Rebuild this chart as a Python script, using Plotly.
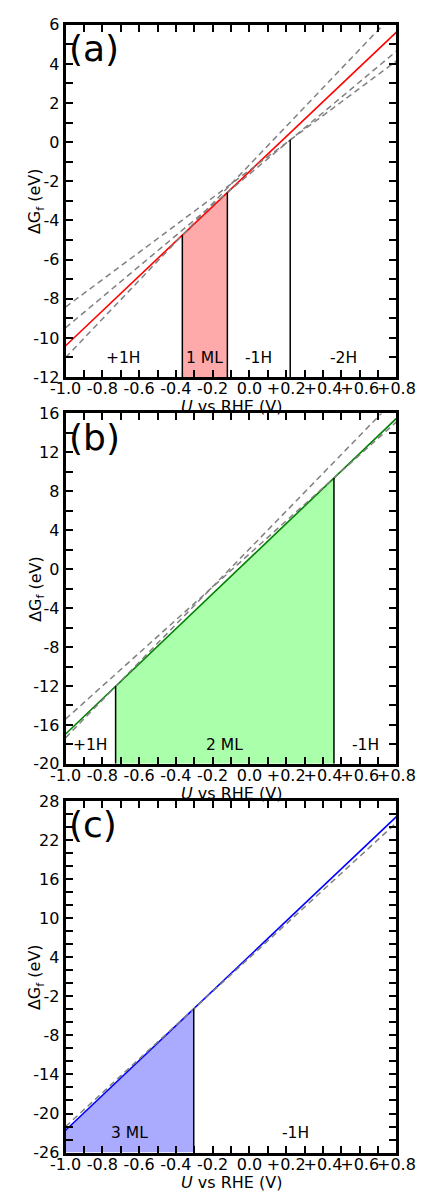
import numpy as np
import plotly.graph_objects as go

# ---------------- data ----------------
U_ENDS = [-1.0, 0.8]                      # U vs RHE at the two ends of every line

# panel (a)
A_1ML = [-10.40, 5.62]
A_P1H = [-11.00, 6.71]
A_M1H = [-9.48, 4.65]
A_M2H = [-8.42, 4.15]
A_BOUNDS = [-0.365, -0.12, 0.222]
A_TOPS = [-4.75, -2.57, 0.12]
A_REGIONS = ["+1H", "1 ML", "-1H", "-2H"]
A_FILLED = 1
A_YRANGE = [-12, 6]
A_YMAJOR = [-12, -10, -8, -6, -4, -2, 0, 2, 4, 6]
A_YLABELS = ["-12", "-10", "-8", "-6", "-4", "-2", "0", "2", "4", "6"]

# panel (b)
B_2ML = [-16.94, 15.49]
B_P1H = [-17.32, 17.60]
B_M1H = [-15.40, 15.14]
B_BOUNDS = [-0.728, 0.46]
B_TOPS = [-12.04, 9.37]
B_REGIONS = ["+1H", "2 ML", "-1H"]
B_FILLED = 1
B_YRANGE = [-20, 16]
B_YMAJOR = [-20, -16, -12, -8, -4, 0, 4, 8, 12, 16]
B_YLABELS = ["-20", "-16", "-12", "-8", "-4", "0", "4", "8", "12", "16"]

# panel (c)
C_3ML = [-22.57, 25.63]
C_M1H = [-22.00, 24.70]
C_BOUNDS = [-0.303]
C_TOPS = [-3.90]
C_REGIONS = ["3 ML", "-1H"]
C_FILLED = 0
C_YRANGE = [-26, 28]
C_YMAJOR = [-26, -20, -14, -8, -2, 4, 10, 16, 22, 28]
C_YLABELS = ["-26", "-20", "-14", "-8", "-2", "4", "10", "16", "22", "28"]

X_MAJOR = [-1.0, -0.8, -0.6, -0.4, -0.2, 0.0, 0.2, 0.4, 0.6, 0.8]
X_LABELS = ["-1.0", "-0.8", "-0.6", "-0.4", "-0.2", "0.0", "+0.2", "+0.4", "+0.6", "+0.8"]

PANEL_LETTERS = ["(a)", "(b)", "(c)"]

# ---------------- style ----------------
FONT = "DejaVu Sans"
W, H = 432, 1196
X0, X1 = 54, 414
PANEL_PIX = [(16, 374), (411, 767), (805, 1162)]
GRAY = "#808080"
DASH = "6px,4px"

panels = [
    dict(main=A_1ML, color="#ff0000", fill="#ffaaaa", dashed=[A_P1H, A_M1H, A_M2H],
         bounds=A_BOUNDS, tops=A_TOPS, regions=A_REGIONS, filled=A_FILLED,
         yrange=A_YRANGE, ymajor=A_YMAJOR, ylabels=A_YLABELS, yminor=1),
    dict(main=B_2ML, color="#008000", fill="#aaffaa", dashed=[B_P1H, B_M1H],
         bounds=B_BOUNDS, tops=B_TOPS, regions=B_REGIONS, filled=B_FILLED,
         yrange=B_YRANGE, ymajor=B_YMAJOR, ylabels=B_YLABELS, yminor=2),
    dict(main=C_3ML, color="#0000ff", fill="#aaaaff", dashed=[C_M1H],
         bounds=C_BOUNDS, tops=C_TOPS, regions=C_REGIONS, filled=C_FILLED,
         yrange=C_YRANGE, ymajor=C_YMAJOR, ylabels=C_YLABELS, yminor=2),
]

fig = go.Figure()
annotations = []
layout = {}

xminor = [float(v) for v in np.round(np.arange(-1.0, 0.8001, 0.1), 2)]
xticktext = []
for v in xminor:
    match = [lab for m, lab in zip(X_MAJOR, X_LABELS) if abs(m - v) < 1e-6]
    xticktext.append(match[0] if match else "")

for i, p in enumerate(panels):
    n = i + 1
    xa = "x" if n == 1 else f"x{n}"
    ya = "y" if n == 1 else f"y{n}"
    ymin = p["yrange"][0]

    full_bounds = [U_ENDS[0]] + p["bounds"] + [U_ENDS[1]]
    full_tops = [p["main"][0]] + p["tops"] + [p["main"][1]]
    k = p["filled"]
    # filled region under the stable phase line
    fig.add_trace(go.Scatter(
        x=[full_bounds[k], full_bounds[k], full_bounds[k + 1], full_bounds[k + 1]],
        y=[ymin, full_tops[k], full_tops[k + 1], ymin],
        fill="toself", fillcolor=p["fill"], line=dict(width=0), mode="lines",
        xaxis=xa, yaxis=ya, showlegend=False, hoverinfo="skip"))
    # main line
    fig.add_trace(go.Scatter(x=U_ENDS, y=p["main"], mode="lines",
                             line=dict(color=p["color"], width=1.6),
                             xaxis=xa, yaxis=ya, showlegend=False))
    # dashed competitors
    for d in p["dashed"]:
        fig.add_trace(go.Scatter(x=U_ENDS, y=d, mode="lines",
                                 line=dict(color=GRAY, width=1.5, dash=DASH),
                                 xaxis=xa, yaxis=ya, showlegend=False))
    # vertical boundaries
    for b, t in zip(p["bounds"], p["tops"]):
        fig.add_trace(go.Scatter(x=[b, b], y=[ymin, t], mode="lines",
                                 line=dict(color="black", width=1.5),
                                 xaxis=xa, yaxis=ya, showlegend=False))
    # region labels
    for j, name in enumerate(p["regions"]):
        annotations.append(dict(
            x=(full_bounds[j] + full_bounds[j + 1]) / 2, xref=xa,
            y=0.055, yref=f"{ya} domain", yanchor="middle",
            text=name, showarrow=False,
            font=dict(family=FONT, size=15.5, color="black")))
    # panel letter
    annotations.append(dict(x=0.004, xref=f"{xa} domain", y=0.997, yref=f"{ya} domain",
                            xanchor="left", yanchor="top", text=PANEL_LETTERS[i],
                            showarrow=False, font=dict(family=FONT, size=36, color="black")))
    # axis titles
    annotations.append(dict(x=0.5, xref=f"{xa} domain", y=0, yref=f"{ya} domain",
                            yanchor="top", yshift=-18, text="<i>U</i> vs RHE (V)",
                            showarrow=False, font=dict(family=FONT, size=16, color="black")))
    annotations.append(dict(x=22 / W, xref="paper", y=0.5, yref=f"{ya} domain",
                            xanchor="center", yanchor="middle", textangle=-90,
                            text="ΔG<sub>f</sub> (eV)", showarrow=False,
                            font=dict(family=FONT, size=16, color="black")))

    top, bot = PANEL_PIX[i]
    yvals = list(range(p["yrange"][0], p["yrange"][1] + 1, p["yminor"]))
    ytext = []
    for v in yvals:
        match = [lab for m, lab in zip(p["ymajor"], p["ylabels"]) if m == v]
        ytext.append(match[0] if match else "")

    axis_common = dict(showline=True, linewidth=3, linecolor="black", mirror="ticks",
                       ticks="inside", ticklen=7, tickwidth=1.5, tickcolor="black",
                       showgrid=False, zeroline=False, tickangle=0,
                       ticklabeloverflow="allow",
                       tickfont=dict(family=FONT, size=16, color="black"))
    layout["xaxis" if n == 1 else f"xaxis{n}"] = dict(
        domain=[X0 / W, X1 / W], range=[U_ENDS[0], U_ENDS[1]], anchor=ya,
        tickmode="array", tickvals=xminor, ticktext=xticktext,
        ticklabelstandoff=-5, **axis_common)
    layout["yaxis" if n == 1 else f"yaxis{n}"] = dict(
        domain=[1 - bot / H, 1 - top / H], range=p["yrange"], anchor=xa,
        tickmode="array", tickvals=yvals, ticktext=ytext, **axis_common)

fig.update_layout(width=W, height=H, margin=dict(l=0, r=0, t=0, b=0),
                  paper_bgcolor="white", plot_bgcolor="white",
                  font=dict(family=FONT, color="black"),
                  annotations=annotations, **layout)
fig.write_html("out.html",
               post_script="document.body.style.margin='0';document.body.style.overflow='hidden';")
